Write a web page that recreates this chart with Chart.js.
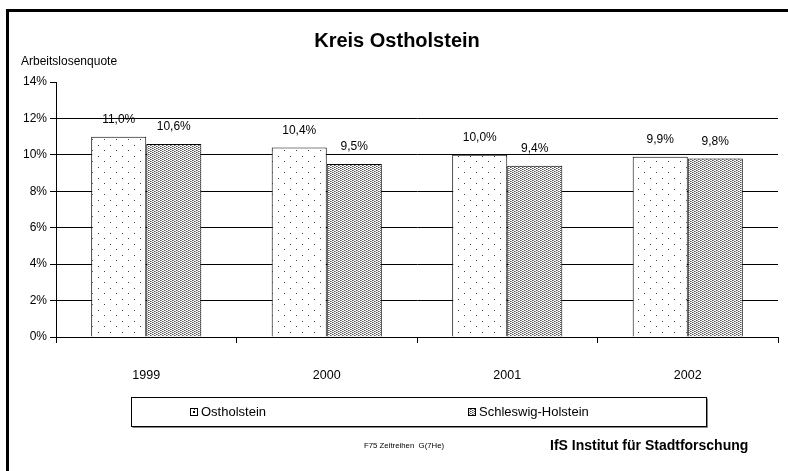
<!DOCTYPE html>
<html>
<head>
<meta charset="utf-8">
<script src="https://cdn.jsdelivr.net/npm/chart.js@4.4.1/dist/chart.umd.min.js"></script>
<style>
  html, body { margin: 0; padding: 0; background: #fff; }
  canvas { display: block; }
</style>
</head>
<body>
<canvas id="chart" width="788" height="471"></canvas>
<script>
// Chart data
const years = ['1999', '2000', '2001', '2002'];
const ostholstein = [11.0, 10.4, 10.0, 9.9];
const schleswigHolstein = [10.6, 9.5, 9.4, 9.8];
const seriesNames = ['Ostholstein', 'Schleswig-Holstein'];
const yTicks = [0, 2, 4, 6, 8, 10, 12, 14];

const FONT = "'Liberation Sans', Arial, sans-serif";

// fill patterns like the old Excel ones
function makePattern(w, h, dots) {
  const c = document.createElement('canvas');
  c.width = w; c.height = h;
  const g = c.getContext('2d');
  g.fillStyle = '#fff';
  g.fillRect(0, 0, w, h);
  dots.forEach(d => {
    g.fillStyle = d[2];
    g.fillRect(d[0], d[1], 1, 1);
  });
  return g.createPattern(c, 'repeat');
}

const sparseDots = makePattern(12, 11, [[2, 2, '#444'], [8, 7, '#444']]);
const denseDots = makePattern(4, 2, [[0, 0, '#555'], [2, 1, '#555'], [1, 0, '#999'], [3, 1, '#999']]);

const fmt = v => v.toFixed(1).replace('.', ',') + '%';

const extrasPlugin = {
  id: 'extras',
  afterDatasetsDraw(chart) {
    const ctx = chart.ctx;
    ctx.save();
    ctx.font = '12px ' + FONT;
    ctx.fillStyle = '#000';
    ctx.textAlign = 'center';
    ctx.textBaseline = 'middle';
    chart.data.datasets.forEach((ds, i) => {
      chart.getDatasetMeta(i).data.forEach((el, j) => {
        ctx.fillText(fmt(ds.data[j]), el.x, el.y - 17);
      });
    });
    ctx.restore();
  },
  afterDraw(chart) {
    const ctx = chart.ctx;
    ctx.save();
    // outer frame
    ctx.strokeStyle = '#000';
    ctx.lineWidth = 3;
    ctx.strokeRect(7.5, 10.5, 800, 500);

    // title
    ctx.fillStyle = '#000';
    ctx.textAlign = 'center';
    ctx.textBaseline = 'middle';
    ctx.font = 'bold 20px ' + FONT;
    ctx.fillText('Kreis Ostholstein', 397, 41);

    // axis title
    ctx.textAlign = 'left';
    ctx.font = '12px ' + FONT;
    ctx.fillText('Arbeitslosenquote', 21, 62);

    // legend box
    ctx.lineWidth = 1;
    ctx.strokeStyle = '#888';
    ctx.beginPath();
    ctx.moveTo(132.5, 427.5); ctx.lineTo(707.5, 427.5); ctx.lineTo(707.5, 398.5);
    ctx.stroke();
    ctx.strokeStyle = '#000';
    ctx.strokeRect(131.5, 397.5, 575, 29);

    const items = [
      { x: 190, fill: sparseDots, dot: true, label: seriesNames[0] },
      { x: 468, fill: denseDots, dot: false, label: seriesNames[1] }
    ];
    items.forEach(it => {
      ctx.fillStyle = it.fill;
      ctx.fillRect(it.x, 408, 7, 7);
      ctx.strokeStyle = '#000';
      ctx.strokeRect(it.x + 0.5, 408.5, 7, 7);
      if (it.dot) {
        ctx.fillStyle = '#000';
        ctx.fillRect(it.x + 3, 411, 2, 2);
      }
      ctx.fillStyle = '#000';
      ctx.font = '13px ' + FONT;
      ctx.textBaseline = 'middle';
      ctx.fillText(it.label, it.x + 11, 412.5);
    });

    // footer
    ctx.font = '7.8px ' + FONT;
    ctx.fillText('F75 Zeitreihen  G(7He)', 364, 446);
    ctx.font = 'bold 14px ' + FONT;
    ctx.fillText('IfS Institut für Stadtforschung', 550, 446);
    ctx.restore();
  }
};

new Chart(document.getElementById('chart').getContext('2d'), {
  type: 'bar',
  data: {
    labels: years,
    datasets: [
      { label: seriesNames[0], data: ostholstein, backgroundColor: sparseDots },
      { label: seriesNames[1], data: schleswigHolstein, backgroundColor: denseDots }
    ]
  },
  options: {
    responsive: false,
    animation: false,
    devicePixelRatio: 1,
    layout: { padding: { top: 82, right: 10, left: 0, bottom: 0 } },
    datasets: {
      bar: {
        categoryPercentage: 0.61,
        barPercentage: 1.0,
        borderColor: '#000',
        borderWidth: 1
      }
    },
    plugins: {
      legend: { display: false },
      title: { display: false },
      tooltip: { enabled: false }
    },
    scales: {
      x: {
        afterFit: s => { s.height = 134; },
        grid: { offset: true, drawOnChartArea: false, drawTicks: true, tickLength: 6, color: '#000' },
        border: { display: true, color: '#000', width: 1 },
        ticks: { font: { family: FONT, size: 12.5 }, color: '#000', padding: 25 }
      },
      y: {
        min: 0,
        max: 14,
        afterFit: s => { s.width = 56; },
        afterBuildTicks: s => { s.ticks = yTicks.map(v => ({ value: v })); },
        grid: {
          color: c => (c.tick && c.tick.value === 14) ? 'rgba(0,0,0,0)' : '#000',
          tickColor: '#000',
          tickLength: 6,
          lineWidth: 1
        },
        border: { display: true, color: '#000', width: 1 },
        ticks: {
          font: { family: FONT, size: 12 },
          color: '#000',
          padding: 3,
          callback: v => v + '%'
        }
      }
    }
  },
  plugins: [extrasPlugin]
});
</script>
</body>
</html>
